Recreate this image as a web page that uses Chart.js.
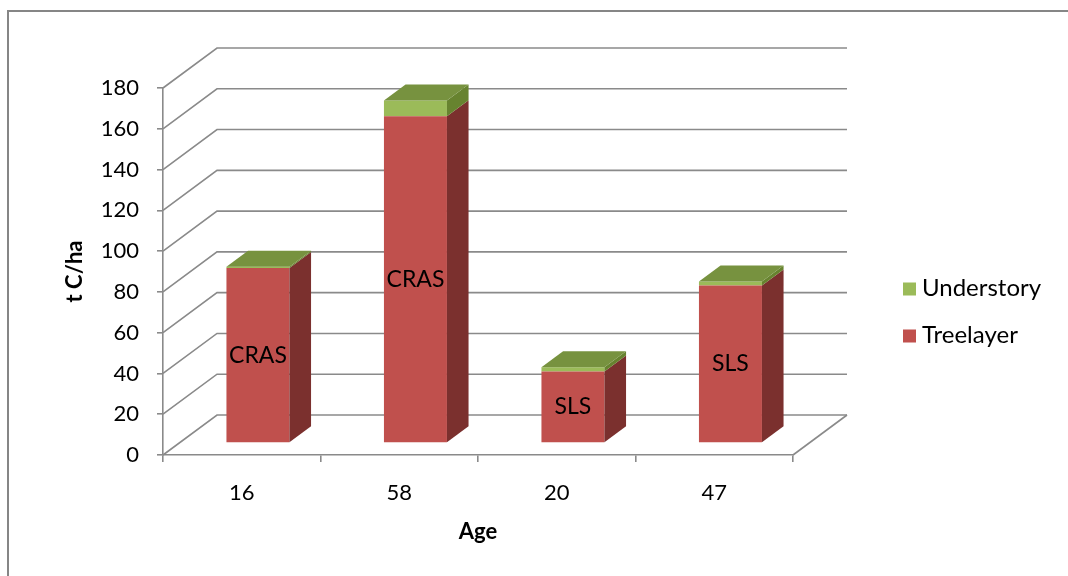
<!DOCTYPE html>
<html>
<head>
<meta charset="utf-8">
<script src="https://cdn.jsdelivr.net/npm/chart.js@4/dist/chart.umd.min.js"></script>
<style>
  html, body { margin: 0; padding: 0; background: #fff; }
  canvas { display: block; }
</style>
</head>
<body>
<canvas id="chart" width="1068" height="576"></canvas>
<script>
// Stand age (years) for each plot
const ages = ['16', '58', '20', '47'];
// Site type written on each bar
const sites = ['CRAS', 'CRAS', 'SLS', 'SLS'];
// Carbon stock, t C/ha
const treelayer = [85.8, 160.2, 35.1, 77.3];
const understory = [0.7, 7.8, 2.0, 1.9];
// Value axis
const yMin = 0, yMax = 180, yStep = 20;

// Colours
const RED = '#C0504D', RED_SIDE = '#7B302E';
const GREEN = '#9BBB59', GREEN_SIDE = '#67832F', GREEN_TOP = '#77923F';
const GRID = '#8A8A8A';
const FONT = 'Lato, "Open Sans", sans-serif';

// 3D box geometry (pixels of wall depth, fractions of it for the bars)
const WALL_DX = 54, WALL_DY = 40;
const BAR_FRONT = 0.3, BAR_DEPTH = 0.4;

const sideColors = [RED_SIDE, GREEN_SIDE];
const topColors = [RED_SIDE, GREEN_TOP];

const depth3d = {
  id: 'depth3d',
  beforeDraw(chart) {
    const ctx = chart.ctx;
    ctx.save();
    ctx.strokeStyle = '#868686';
    ctx.lineWidth = 2;
    ctx.strokeRect(8, 11, chart.width + 10, chart.height + 10);
    ctx.restore();
  },
  beforeDatasetsDraw(chart) {
    const { ctx, chartArea: a, scales: { y } } = chart;
    ctx.save();
    ctx.strokeStyle = GRID;
    ctx.lineWidth = 1.6;
    y.ticks.forEach(t => {
      const py = y.getPixelForValue(t.value);
      ctx.beginPath();
      ctx.moveTo(a.left, py);
      ctx.lineTo(a.left + WALL_DX, py - WALL_DY);
      ctx.lineTo(a.right + WALL_DX, py - WALL_DY);
      ctx.stroke();
    });
    const p0 = y.getPixelForValue(0);
    ctx.beginPath();
    ctx.moveTo(a.right, p0);
    ctx.lineTo(a.right + WALL_DX, p0 - WALL_DY);
    ctx.stroke();
    ctx.restore();
    // bars sit a little behind the front plane
    ctx.save();
    ctx.translate(WALL_DX * BAR_FRONT, -WALL_DY * BAR_FRONT);
  },
  afterDatasetsDraw(chart) {
    const ctx = chart.ctx;
    const sx = WALL_DX * BAR_DEPTH, sy = WALL_DY * BAR_DEPTH;
    const metas = chart.getSortedVisibleDatasetMetas();
    ages.forEach((_, i) => {
      metas.forEach((meta, k) => {
        const el = meta.data[i];
        const { x, y, base, width } = el.getProps(['x', 'y', 'base', 'width'], true);
        const left = x - width / 2, right = x + width / 2;
        const top = Math.min(y, base), bottom = Math.max(y, base);
        ctx.fillStyle = sideColors[k];
        ctx.beginPath();
        ctx.moveTo(right, bottom);
        ctx.lineTo(right, top);
        ctx.lineTo(right + sx, top - sy);
        ctx.lineTo(right + sx, bottom - sy);
        ctx.closePath();
        ctx.fill();
        if (k === metas.length - 1) {
          ctx.fillStyle = topColors[k];
          ctx.beginPath();
          ctx.moveTo(left, top);
          ctx.lineTo(left + sx, top - sy);
          ctx.lineTo(right + sx, top - sy);
          ctx.lineTo(right, top);
          ctx.closePath();
          ctx.fill();
        }
      });
      // site label centred on the tree layer face
      const el = metas[0].data[i];
      const { x, y, base } = el.getProps(['x', 'y', 'base'], true);
      ctx.fillStyle = '#000';
      ctx.font = '23px ' + FONT;
      ctx.textAlign = 'center';
      ctx.textBaseline = 'middle';
      ctx.fillText(sites[i], x, (y + base) / 2);
    });
    ctx.restore();
  },
  afterDraw(chart) {
    const ctx = chart.ctx;
    const items = [
      { text: 'Understory', color: GREEN },
      { text: 'Treelayer', color: RED }
    ];
    const lx = 903, cy = 312, gap = 47;
    ctx.save();
    ctx.font = '24px ' + FONT;
    ctx.textBaseline = 'middle';
    ctx.textAlign = 'left';
    items.forEach((it, j) => {
      const yy = cy + (j - 0.5) * gap;
      ctx.fillStyle = it.color;
      ctx.fillRect(lx, yy - 6, 13, 13);
      ctx.fillStyle = '#000';
      ctx.fillText(it.text, lx + 19, yy);
    });
    ctx.restore();
  }
};

new Chart(document.getElementById('chart'), {
  type: 'bar',
  data: {
    labels: ages,
    datasets: [
      { label: 'Treelayer', data: treelayer, backgroundColor: RED, borderWidth: 0,
        barPercentage: 0.4, categoryPercentage: 1 },
      { label: 'Understory', data: understory, backgroundColor: GREEN, borderWidth: 0,
        barPercentage: 0.4, categoryPercentage: 1 }
    ]
  },
  options: {
    responsive: false,
    devicePixelRatio: 1,
    animation: false,
    events: [],
    layout: { padding: { left: 0, top: 88, right: 275, bottom: 0 } },
    plugins: {
      legend: { display: false },
      tooltip: { enabled: false }
    },
    scales: {
      x: {
        stacked: true,
        offset: true,
        grid: { display: true, drawOnChartArea: false, offset: true, tickLength: 7,
                color: GRID, lineWidth: 1.6 },
        border: { display: true, color: GRID, width: 1.6 },
        ticks: { color: '#000', font: { family: FONT, size: 22 }, padding: 18 },
        title: { display: true, text: 'Age', color: '#000',
                 font: { family: FONT, size: 22, weight: 'bold' }, padding: { top: 0, bottom: 31 } },
        afterFit(scale) { scale.height = 121; }
      },
      y: {
        stacked: true,
        min: yMin, max: yMax,
        ticks: { stepSize: yStep, color: '#000', font: { family: FONT, size: 22 }, padding: 18 },
        grid: { display: true, drawOnChartArea: false, tickLength: 6, color: GRID, lineWidth: 1.6 },
        border: { display: true, color: GRID, width: 1.6 },
        title: { display: true, text: 't C/ha', color: '#000',
                 font: { family: FONT, size: 22, weight: 'bold' }, padding: { top: 62, bottom: 0 } },
        afterFit(scale) { scale.width = 163; }
      }
    }
  },
  plugins: [depth3d]
});
</script>
</body>
</html>
